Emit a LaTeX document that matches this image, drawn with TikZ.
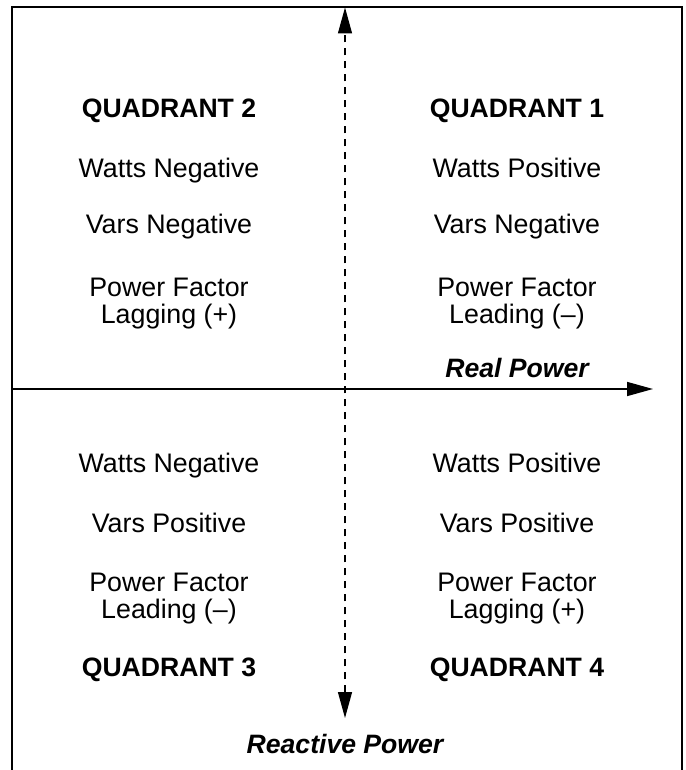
\documentclass[tikz,border=0pt]{standalone}
\usepackage{fontspec}
\setmainfont{Liberation Sans}
\usetikzlibrary{arrows.meta}
\begin{document}
\begin{tikzpicture}[x=1pt,y=-1pt,
  lbl/.style={anchor=base, inner sep=0pt, font=\fontsize{26.8}{28}\selectfont},
  head/.style={anchor=base, inner sep=0pt, font=\fontsize{26.6}{28}\selectfont\bfseries},
  axlabel/.style={anchor=base, inner sep=0pt, font=\fontsize{26.6}{28}\selectfont\bfseries\itshape},
  frameline/.style={line width=2pt},
  tip/.tip={Triangle[length=26pt,width=14pt]},
  haxis/.style={line width=1.6pt, -tip},
  vaxis/.style={line width=1.3pt, tip-tip, dash pattern=on 7.5pt off 5.5pt},
]
\useasboundingbox (0,0) rectangle (685,770);
% frame (open at bottom)
\coordinate (fbl) at (11.5,772);
\coordinate (ftl) at (11.5,7);
\coordinate (ftr) at (681.5,7);
\coordinate (fbr) at (681.5,772);
\draw[frameline] (fbl) -- (ftl) -- (ftr) -- (fbr);
% axes
\coordinate (hl) at (11.5,389);
\coordinate (hr) at (653,389);
\draw[haxis] (hl) -- (hr);
\coordinate (vt) at (345,7.5);
\coordinate (vb) at (345,718);
\draw[vaxis] (vb) -- (vt);
% quadrant 2
\node[head] (q2) at (169,118) {QUADRANT 2};
\node[lbl] (q2w) at (169,177) {Watts Negative};
\node[lbl] (q2v) at (169,233) {Vars Negative};
\node[lbl] (q2p) at (169,296) {Power Factor};
\node[lbl] (q2l) at (169,323) {Lagging (+)};
% quadrant 1
\node[head] (q1) at (517,118) {QUADRANT 1};
\node[lbl] (q1w) at (517,177) {Watts Positive};
\node[lbl] (q1v) at (517,233) {Vars Negative};
\node[lbl] (q1p) at (517,296) {Power Factor};
\node[lbl] (q1l) at (517,323) {Leading (–)};
\node[axlabel] (rp) at (517,377) {Real Power};
% quadrant 3
\node[lbl] (q3w) at (169,472) {Watts Negative};
\node[lbl] (q3v) at (169,532) {Vars Positive};
\node[lbl] (q3p) at (169,591) {Power Factor};
\node[lbl] (q3l) at (169,618) {Leading (–)};
\node[head] (q3) at (169,676) {QUADRANT 3};
% quadrant 4
\node[lbl] (q4w) at (517,472) {Watts Positive};
\node[lbl] (q4v) at (517,532) {Vars Positive};
\node[lbl] (q4p) at (517,591) {Power Factor};
\node[lbl] (q4l) at (517,618) {Lagging (+)};
\node[head] (q4) at (517,676) {QUADRANT 4};
\node[axlabel] (xp) at (345,753) {Reactive Power};
\end{tikzpicture}
\end{document}
